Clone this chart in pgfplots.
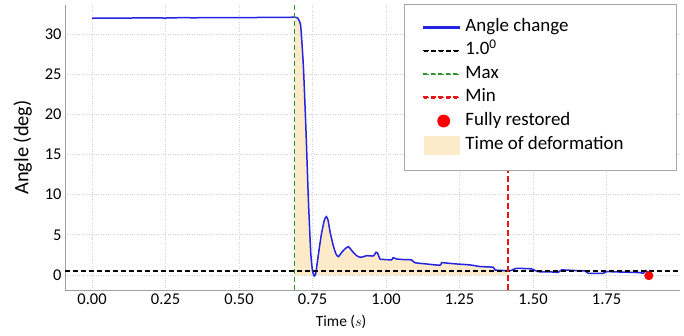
\documentclass[border=0pt]{standalone}
\usepackage{pgfplots}
\pgfplotsset{compat=1.18}
\usepackage{pgfplotstable}
\usepackage{fontspec}
\setmainfont{Carlito}

\definecolor{curveblue}{RGB}{35,35,225}
\definecolor{maxgreen}{RGB}{40,150,40}
\definecolor{minred}{RGB}{235,20,20}
\definecolor{fillorange}{RGB}{253,234,200}

\pgfplotsset{
  solidleg/.style={legend image code/.code={\fill[#1] (0bp,-0.8bp) rectangle (36bp,0.8bp);}},
  dashleg/.style={legend image code/.code={\foreach \i in {0,7.5,15,22.5,30} {\fill[#1] (\i bp,-0.65bp) rectangle ++(5bp,1.3bp);}}},
  dotleg/.style={legend image code/.code={\fill[#1] (20bp,0bp) circle (6bp);}},
  arealeg/.style={legend image code/.code={\fill[#1] (0bp,-9.5bp) rectangle (36bp,9.5bp);}},
}

\pgfplotstableread{
x y
0.000 31.95
0.050 31.97
0.100 31.96
0.150 31.99
0.200 32.00
0.250 31.98
0.300 32.02
0.350 32.01
0.400 32.03
0.450 32.02
0.500 32.04
0.550 32.04
0.600 32.06
0.650 32.05
0.690 32.08
0.700 31.95
0.705 31.60
0.710 30.90
0.719 25.90
0.728 17.70
0.736 9.30
0.744 2.74
0.750 0.50
0.756 -0.12
0.761 0.20
0.766 1.49
0.774 3.60
0.781 5.23
0.790 6.80
0.797 7.26
0.803 6.80
0.810 5.30
0.821 3.60
0.830 2.60
0.838 2.28
0.849 2.80
0.862 3.30
0.872 3.52
0.880 3.20
0.889 2.80
0.900 2.40
0.912 2.20
0.925 2.30
0.934 2.40
0.957 2.37
0.966 2.83
0.971 2.75
0.976 2.25
0.980 1.96
1.000 1.92
1.019 1.87
1.024 2.15
1.036 1.99
1.060 1.92
1.087 1.87
1.098 1.53
1.138 1.37
1.184 1.21
1.189 1.53
1.215 1.45
1.240 1.37
1.286 1.25
1.320 1.05
1.365 0.96
1.371 0.62
1.410 0.54
1.415 0.54
1.425 0.56
1.444 0.83
1.470 0.80
1.495 0.75
1.518 0.41
1.560 0.38
1.586 0.34
1.597 0.62
1.640 0.56
1.677 0.50
1.688 0.21
1.739 0.21
1.750 0.41
1.800 0.36
1.864 0.29
1.875 0.21
1.883 0.54
1.892 0.29
}\curvedata

\begin{document}
\begin{tikzpicture}
\begin{axis}[
  set layers,
  scale only axis,
  width=615bp, height=285bp,
  xmin=-0.092, xmax=2.0,
  ymin=-1.87, ymax=33.6,
  axis lines*=left,
  axis line style={draw=gray!75, line width=1bp},
  xtick={0,0.25,0.5,0.75,1,1.25,1.5,1.75},
  xticklabels={0.00,0.25,0.50,0.75,1.00,1.25,1.50,1.75},
  ytick={0,5,10,15,20,25,30},
  major tick length=0pt,
  grid=major,
  major grid style={draw=gray!35, dotted, line width=0.7bp},
  /pgf/number format/assume math mode=true,
  tick label style={font=\fontsize{16.5}{16.5}\selectfont},
  xlabel={Time ($s$)},
  ylabel={Angle (deg)},
  xlabel style={font=\fontsize{15.5}{15.5}\selectfont, at={(axis description cs:0.449,0)}, anchor=center, yshift=-32bp},
  ylabel style={font=\fontsize{20.5}{20.5}\selectfont, at={(axis description cs:-0.069,0.5)}, anchor=center},
  legend style={at={(axis description cs:0.995,1.0035)}, anchor=north east,
    draw=gray!70, line width=0.8bp, fill=white,
    font=\fontsize{19}{19}\selectfont,
    inner xsep=19bp, inner ysep=15bp, row sep=7.4bp,
    nodes={inner sep=0bp, text height=12bp, text depth=4bp},
    column sep=5bp},
  legend cell align=left,
]
% curve
\addplot[draw=curveblue, line width=1.5bp, smooth, tension=0.35,
  solidleg=curveblue] table[x=x,y=y] {\curvedata};
\addlegendentry{Angle change}
% reference lines
\addplot[draw=black, dash pattern=on 5bp off 3bp, line width=1.2bp, dashleg=black]
  coordinates {(-0.092,0.5) (2.0,0.5)};
\addlegendentry{1.0\textsuperscript{0}}
\addplot[draw=maxgreen, dash pattern=on 5bp off 3bp, line width=1.2bp, dashleg=maxgreen]
  coordinates {(0.69,-1.87) (0.69,33.6)};
\addlegendentry{Max}
\addplot[draw=minred, dash pattern=on 6bp off 3bp, line width=1.1bp, dashleg=minred]
  coordinates {(1.415,-1.87) (1.415,33.6)};
\addlegendentry{Min}
% fully restored
\addplot[only marks, mark=*, mark size=4.3bp, draw=red, fill=red, dotleg=red]
  coordinates {(1.894,-0.08)};
\addlegendentry{Fully restored}
% filled region (time of deformation)
\addplot[fill=fillorange, draw=none, smooth, tension=0.35, on layer=axis background,
  arealeg=fillorange,
  restrict x to domain=0.69:1.415] table[x=x,y=y] {\curvedata} \closedcycle;
\addlegendentry{Time of deformation\hspace*{34bp}}
\end{axis}
\pgfresetboundingbox
\useasboundingbox ([xshift=-65bp,yshift=-46bp]current axis.south west)
  rectangle ([xshift=4bp,yshift=5bp]current axis.north east);
\end{tikzpicture}
\end{document}
